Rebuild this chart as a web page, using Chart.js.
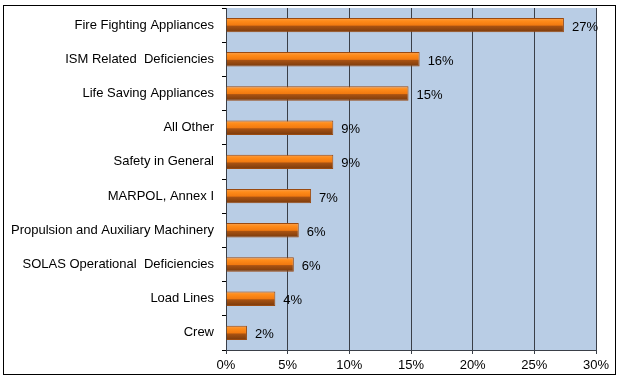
<!DOCTYPE html>
<html>
<head>
<meta charset="utf-8">
<script src="https://cdn.jsdelivr.net/npm/chart.js@4"></script>
<style>
  body { margin: 0; background: #fff; }
  #moldura { position: absolute; left: 3px; top: 5px; width: 611px; height: 368px; border: 1px solid #000; }
</style>
</head>
<body>
<div id="moldura"><canvas id="grafico" width="611" height="368"></canvas></div>
<script>
// Dados
const categorias = ['Fire Fighting Appliances', 'ISM Related  Deficiencies', 'Life Saving Appliances', 'All Other',
  'Safety in General', 'MARPOL, Annex I', 'Propulsion and Auxiliary Machinery', 'SOLAS Operational  Deficiencies',
  'Load Lines', 'Crew'];
const valores = [27.4, 15.7, 14.8, 8.7, 8.7, 6.9, 5.9, 5.5, 4.0, 1.7];
const rotulos = ['27%', '16%', '15%', '9%', '9%', '7%', '6%', '6%', '4%', '2%'];
const ticksX = [0, 5, 10, 15, 20, 25, 30];

const fonte = { family: 'Arial, "Liberation Sans", sans-serif', size: 13 };

// fundo azul da área do gráfico
const fundoPlugin = {
  id: 'fundo',
  beforeDraw(chart) {
    const a = chart.chartArea;
    chart.ctx.save();
    chart.ctx.fillStyle = '#B9CDE5';
    chart.ctx.fillRect(a.left, a.top, a.right - a.left, a.bottom - a.top);
    chart.ctx.restore();
  }
};

// rótulos de valor ao lado das barras
const rotuloPlugin = {
  id: 'rotulos',
  afterDatasetsDraw(chart) {
    const ctx = chart.ctx;
    const meta = chart.getDatasetMeta(0);
    ctx.save();
    ctx.font = '13px Arial, "Liberation Sans", sans-serif';
    ctx.fillStyle = '#000';
    ctx.textBaseline = 'middle';
    meta.data.forEach((bar, i) => {
      ctx.fillText(rotulos[i], bar.x + 8, bar.y + 2);
    });
    ctx.restore();
  }
};

function corBarra(context) {
  const chart = context.chart;
  const y = chart.scales.y;
  if (!y || !chart.chartArea) return '#F07A10';
  const meio = y.getPixelForValue(context.dataIndex);
  const alt = 14;
  const g = chart.ctx.createLinearGradient(0, meio - alt / 2, 0, meio + alt / 2);
  g.addColorStop(0, '#F8A050');
  g.addColorStop(0.2, '#FF8C1A');
  g.addColorStop(0.5, '#F27A10');
  g.addColorStop(0.58, '#A85212');
  g.addColorStop(1, '#7A3A0C');
  return g;
}

const ctx = document.getElementById('grafico').getContext('2d');
const grafico = new Chart(ctx, {
  type: 'bar',
  data: {
    labels: categorias,
    datasets: [{
      data: valores,
      backgroundColor: corBarra,
      borderColor: '#9A4A10',
      borderWidth: 1,
      barPercentage: 0.42,
      categoryPercentage: 1
    }]
  },
  options: {
    indexAxis: 'y',
    responsive: false,
    animation: false,
    devicePixelRatio: 1,
    layout: { padding: { left: 0, right: 19, top: 2, bottom: 0 } },
    plugins: { legend: { display: false }, tooltip: { enabled: false } },
    scales: {
      x: {
        min: 0,
        max: 30,
        afterFit(scale) { scale.height = 24; },
        afterBuildTicks(scale) { scale.ticks = ticksX.map(v => ({ value: v })); },
        ticks: { color: '#000', font: fonte, padding: 4, callback: v => v + '%' },
        grid: { color: '#3A3F48', lineWidth: 1, tickLength: 4 },
        border: { color: '#3A3F48', width: 1 }
      },
      y: {
        afterFit(scale) {
          scale.width = 222;
          scale.paddingTop = 0;
          scale.paddingBottom = 0;
        },
        ticks: { color: '#000', font: fonte, padding: 8 },
        grid: { display: true, drawOnChartArea: false, offset: true, color: '#000', tickLength: 4 },
        border: { color: '#3A3F48', width: 1 }
      }
    }
  },
  plugins: [fundoPlugin, rotuloPlugin]
});
</script>
</body>
</html>
